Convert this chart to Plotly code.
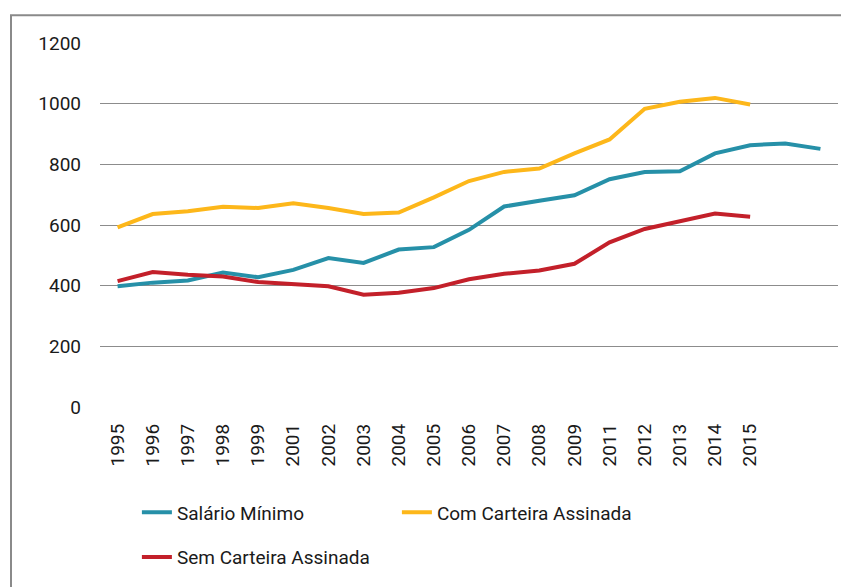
import plotly.graph_objects as go

# Category labels on the x axis (Excel-style, 2000 and 2010 missing, two blank slots at the end)
years = ["1995", "1996", "1997", "1998", "1999", "2001", "2002", "2003", "2004", "2005",
         "2006", "2007", "2008", "2009", "2011", "2012", "2013", "2014", "2015"]

series = {
    "Salário Mínimo": [398, 410, 417, 443, 428, 452, 491, 475, 519, 527, 584,
                       661, 680, 698, 751, 775, 777, 836, 863, 869, 851],
    "Com Carteira Assinada": [592, 636, 645, 660, 656, 672, 656, 636, 641, 691,
                              745, 775, 786, 836, 882, 983, 1006, 1019, 997],
    "Sem Carteira Assinada": [415, 445, 436, 430, 412, 404, 398, 370, 377, 392,
                              421, 439, 450, 472, 543, 587, 611, 638, 627],
}
colors = {
    "Salário Mínimo": "#2690A8",
    "Com Carteira Assinada": "#FDB71A",
    "Sem Carteira Assinada": "#C3202A",
}
legends = {
    "Salário Mínimo": "legend",
    "Com Carteira Assinada": "legend",
    "Sem Carteira Assinada": "legend2",
}

fig = go.Figure()
for name, values in series.items():
    fig.add_trace(go.Scatter(
        x=list(range(len(values))),
        y=values,
        mode="lines",
        name=name,
        line=dict(color=colors[name], width=4),
        legend=legends[name],
    ))

font = dict(family="Roboto, sans-serif", size=19, color="#1a1a1a")
# the page body adds an 8px offset, so the figure is 8px smaller on each side
fig.update_layout(
    width=841,
    height=579,
    margin=dict(l=92, r=11, t=35, b=178),
    paper_bgcolor="white",
    plot_bgcolor="white",
    font=font,
    xaxis=dict(
        range=[-0.5, 20.5],
        tickmode="array",
        tickvals=list(range(len(years))),
        ticktext=years,
        tickangle=-90,
        showgrid=False,
        zeroline=False,
        showline=False,
        ticks="",
        automargin=False,
        ticklabelstandoff=12,
    ),
    yaxis=dict(
        range=[0, 1200],
        dtick=200,
        gridcolor="#8c8c8c",
        gridwidth=1,
        zeroline=False,
        showline=False,
        ticks="",
        ticklabelstandoff=18,
        automargin=False,
    ),
    legend=dict(
        orientation="h",
        x=0.05, y=-0.2896, xanchor="left", yanchor="middle",
        entrywidth=215, entrywidthmode="pixels",
        font=font, bgcolor="rgba(0,0,0,0)",
    ),
    legend2=dict(
        orientation="h",
        x=0.05, y=-0.4126, xanchor="left", yanchor="middle",
        font=font, bgcolor="rgba(0,0,0,0)",
    ),
    showlegend=True,
)

# Chart frame (only left and top edges fall inside the picture)
fig.add_shape(type="rect", xref="paper", yref="paper",
              x0=-0.1206, x1=1.05, y0=-0.6, y1=1.0765,
              line=dict(color="#8a8a8a", width=2), layer="below")

fig.write_html("out.html")
